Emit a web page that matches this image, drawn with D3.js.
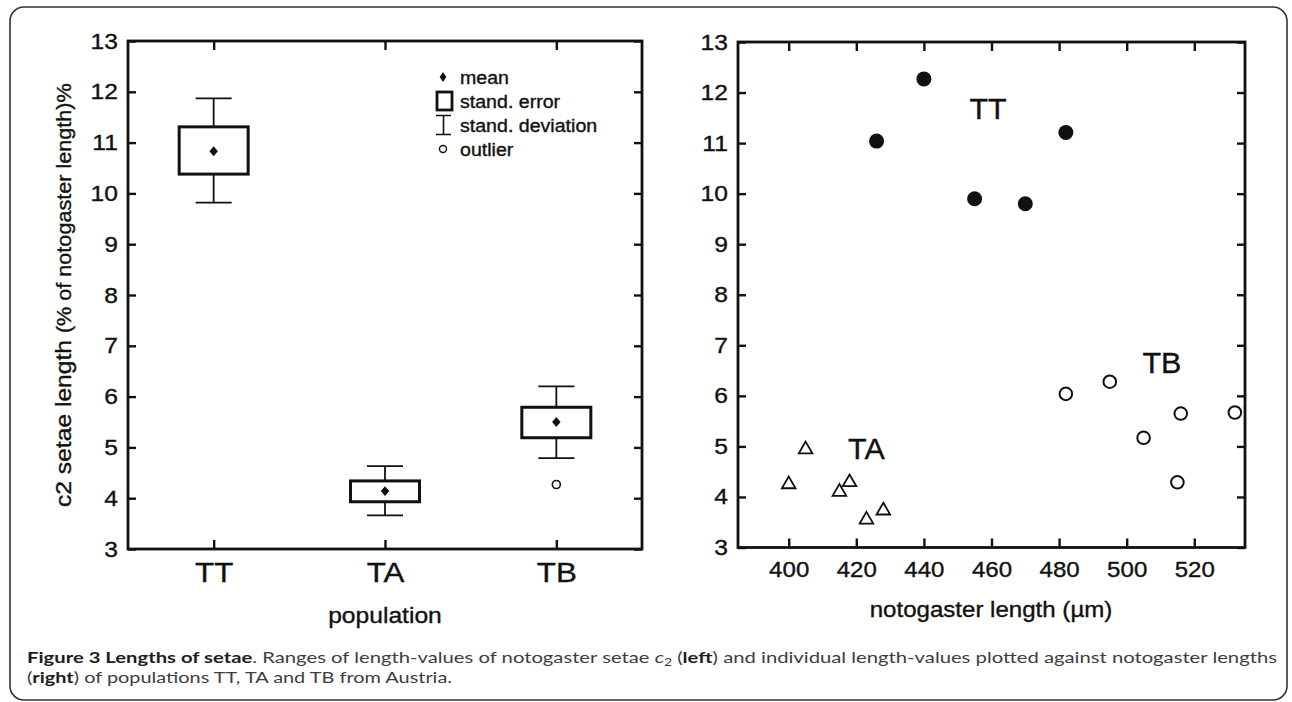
<!DOCTYPE html>
<html>
<head>
<meta charset="utf-8">
<script src="https://cdn.jsdelivr.net/npm/d3@7"></script>
<style>
  body { margin: 0; background: #fff; }
  text { font-family: "Liberation Sans", Arial, sans-serif; fill: #111; }
  .plot text { stroke: #111; stroke-width: 0.35; }
  .caption text { font-family: Lato, "Open Sans", sans-serif; }
</style>
</head>
<body>
<div id="chart"></div>
<script>
// page size
const width = 1292; const height = 702;
// the scanned lettering is a bit wider than plain Arial
const SX = 1.12;

// ---- data: left panel (box plot per population) ----
const populations = ['TT', 'TA', 'TB'];
const popMean = [10.83, 4.14, 5.50];
const seLow = [10.38, 3.93, 5.19];
const seHigh = [11.31, 4.34, 5.79];
const sdLow = [9.82, 3.66, 4.79];
const sdHigh = [11.87, 4.63, 6.20];
const outlierPop = ['TB'];
const outlierVal = [4.27];

// ---- data: right panel (individual values) ----
const ttLength = [426, 440, 455, 470, 482];
const ttSetae = [11.04, 12.27, 9.90, 9.80, 11.21];
const taLength = [400, 405, 415, 418, 423, 428];
const taSetae = [4.25, 4.94, 4.10, 4.29, 3.55, 3.73];
const tbLength = [482, 495, 505, 516, 515, 532];
const tbSetae = [6.04, 6.28, 5.17, 5.65, 4.29, 5.67];
// where the group names sit (data units, baseline)
const groupLabel = ['TT', 'TA', 'TB'];
const groupLabelX = [459, 423, 510.4];
const groupLabelY = [11.47, 4.76, 6.45];

// ---- ticks ----
const setaeTicks = [3, 4, 5, 6, 7, 8, 9, 10, 11, 12, 13];
const lengthTicks = [400, 420, 440, 460, 480, 500, 520];

const svg = d3.select('#chart')
    .append('svg')
        .attr('width', width)
        .attr('height', height);

// outer frame of the figure
svg.append('rect')
    .attr('x', 10).attr('y', 7)
    .attr('width', 1277).attr('height', 693)
    .attr('rx', 14)
    .attr('fill', 'none')
    .attr('stroke', '#333')
    .attr('stroke-width', 1.6);

function label(g, x, y, str, size, anchor, sx) {
    return g.append('text')
        .attr('transform', `translate(${x},${y}) scale(${sx || SX},1)`)
        .attr('text-anchor', anchor)
        .attr('font-size', size)
        .text(str);
}

// draws frame + inward ticks on all four sides
function frame(g, x, y, xTicks, xFormat, xFont, xPad) {
    const [x0, x1] = x.range();
    const [y1, y0] = y.range();
    const yl = g.append('g').attr('transform', `translate(${x0},0)`)
        .call(d3.axisLeft(y).tickValues(setaeTicks).tickSizeInner(-8).tickSizeOuter(0).tickPadding(9));
    yl.selectAll('text').attr('font-size', 22).attr('transform', `scale(${SX},1)`);
    g.append('g').attr('transform', `translate(${x1},0)`)
        .call(d3.axisRight(y).tickValues(setaeTicks).tickSizeInner(-8).tickSizeOuter(0).tickFormat(''));
    const xb = g.append('g').attr('transform', `translate(0,${y1})`)
        .call(d3.axisBottom(x).tickValues(xTicks).tickSizeInner(-9).tickSizeOuter(0).tickPadding(xPad).tickFormat(xFormat));
    xb.selectAll('text').attr('font-size', xFont).attr('transform', `scale(${SX},1)`);
    g.append('g').attr('transform', `translate(0,${y0})`)
        .call(d3.axisTop(x).tickValues(xTicks).tickSizeInner(-9).tickSizeOuter(0).tickFormat(''));
    g.selectAll('.domain').remove();
    g.selectAll('.tick line').attr('stroke', '#111').attr('stroke-width', 2.4);
    g.selectAll('.tick text').attr('fill', '#111').attr('font-family', '"Liberation Sans", Arial, sans-serif');
    g.append('rect')
        .attr('x', x0).attr('y', y0)
        .attr('width', x1 - x0).attr('height', y1 - y0)
        .attr('fill', 'none')
        .attr('stroke', '#111')
        .attr('stroke-width', 2.8);
}

// =================== left panel ===================
const left = svg.append('g').attr('class', 'plot');
const xL = d3.scalePoint().domain(populations).range([128, 642]).padding(0.5);
const yL = d3.scaleLinear().domain([3, 13]).range([549, 41]);
frame(left, xL, yL, populations, d => d, 28, 13);

const boxW = 69; const capW = 36;
const boxes = left.selectAll('.pop').data(populations).enter()
    .append('g').attr('class', 'pop');
// standard deviation whiskers
boxes.append('line')
    .attr('x1', d => xL(d)).attr('x2', d => xL(d))
    .attr('y1', (d, i) => yL(sdHigh[i])).attr('y2', (d, i) => yL(sdLow[i]))
    .attr('stroke', '#111').attr('stroke-width', 1.8);
[sdHigh, sdLow].forEach(arr => {
    boxes.append('line')
        .attr('x1', d => xL(d) - capW / 2).attr('x2', d => xL(d) + capW / 2)
        .attr('y1', (d, i) => yL(arr[i])).attr('y2', (d, i) => yL(arr[i]))
        .attr('stroke', '#111').attr('stroke-width', 1.8);
});
// standard error box
boxes.append('rect')
    .attr('x', d => xL(d) - boxW / 2)
    .attr('y', (d, i) => yL(seHigh[i]))
    .attr('width', boxW)
    .attr('height', (d, i) => yL(seLow[i]) - yL(seHigh[i]))
    .attr('fill', '#fff')
    .attr('stroke', '#111').attr('stroke-width', 3);
// mean
const diamond = d3.symbol(d3.symbolSquare, 40);
boxes.append('path')
    .attr('d', diamond)
    .attr('transform', (d, i) => `translate(${xL(d)},${yL(popMean[i])}) scale(0.95,1.1) rotate(45)`)
    .attr('fill', '#111');
// outliers
left.selectAll('.outlier').data(outlierPop).enter()
    .append('circle')
        .attr('cx', d => xL(d))
        .attr('cy', (d, i) => yL(outlierVal[i]))
        .attr('r', 4)
        .attr('fill', 'none')
        .attr('stroke', '#111').attr('stroke-width', 1.6);

// legend
const lg = left.append('g');
lg.append('path').attr('d', diamond).attr('transform', 'translate(443,77) scale(0.75,1.1) rotate(45)').attr('fill', '#111');
lg.append('rect').attr('x', 437).attr('y', 92).attr('width', 15).attr('height', 18)
    .attr('fill', 'none').attr('stroke', '#111').attr('stroke-width', 2.8);
lg.append('path').attr('d', 'M436,115.5H451M443.5,115.5V134.5M436,134.5H451')
    .attr('fill', 'none').attr('stroke', '#111').attr('stroke-width', 1.6);
lg.append('circle').attr('cx', 443).attr('cy', 149).attr('r', 3.5)
    .attr('fill', 'none').attr('stroke', '#111').attr('stroke-width', 1.4);
['mean', 'stand. error', 'stand. deviation', 'outlier'].forEach((t, i) => {
    label(lg, 460, [84, 108, 132, 156][i], t, 17.5, 'start');
});

// axis titles
left.append('text')
    .attr('transform', `translate(70.5,507) rotate(-90) scale(${SX},1)`)
    .call(t => {
        t.append('tspan').attr('font-size', 22).text('c2 setae length ');
        t.append('tspan').attr('font-size', 19.3).text('(% of notogaster length)%');
    });
label(left, 385, 623, 'population', 22, 'middle');

// =================== right panel ===================
const right = svg.append('g').attr('class', 'plot');
const xR = d3.scaleLinear().domain([385, 535]).range([738, 1245]);
const yR = d3.scaleLinear().domain([3, 13]).range([547.5, 42]);
frame(right, xR, yR, lengthTicks, d3.format('d'), 21.5, 14);

right.selectAll('.tt').data(ttLength).enter()
    .append('circle')
        .attr('cx', d => xR(d))
        .attr('cy', (d, i) => yR(ttSetae[i]))
        .attr('r', 7.5)
        .attr('fill', '#111');

right.selectAll('.ta').data(taLength).enter()
    .append('path')
        .attr('d', d3.symbol(d3.symbolTriangle, 80))
        .attr('transform', (d, i) => `translate(${xR(d)},${yR(taSetae[i])})`)
        .attr('fill', 'none')
        .attr('stroke', '#111').attr('stroke-width', 1.8);

right.selectAll('.tb').data(tbLength).enter()
    .append('circle')
        .attr('cx', d => xR(d))
        .attr('cy', (d, i) => yR(tbSetae[i]))
        .attr('r', 6.3)
        .attr('fill', 'none')
        .attr('stroke', '#111').attr('stroke-width', 2);

groupLabel.forEach((t, i) => {
    label(right, xR(groupLabelX[i]), yR(groupLabelY[i]), t, 29, 'middle', 1.05);
});

label(right, 991, 617, 'notogaster length (\u00b5m)', 21.5, 'middle');

// =================== caption ===================
const cap = svg.append('g').attr('class', 'caption');
const dark = '#1d1d1b'; const grey = '#3d3d3d';
cap.append('text')
    .attr('x', 27).attr('y', 663)
    .attr('font-size', 16)
    .attr('textLength', 1250).attr('lengthAdjust', 'spacingAndGlyphs')
    .call(t => {
        t.append('tspan').attr('font-weight', 'bold').attr('fill', dark).text('Figure 3 Lengths of setae');
        t.append('tspan').attr('fill', grey).text('. Ranges of length-values of notogaster setae ');
        t.append('tspan').attr('fill', grey).attr('font-style', 'italic').text('c');
        t.append('tspan').attr('fill', grey).attr('font-size', 11).attr('dy', 3).text('2');
        t.append('tspan').attr('fill', grey).attr('dy', -3).text(' (');
        t.append('tspan').attr('font-weight', 'bold').attr('fill', dark).text('left');
        t.append('tspan').attr('fill', grey).text(') and individual length-values plotted against notogaster lengths');
    });
cap.append('text')
    .attr('x', 27).attr('y', 683)
    .attr('font-size', 16)
    .attr('textLength', 425).attr('lengthAdjust', 'spacingAndGlyphs')
    .call(t => {
        t.append('tspan').attr('fill', grey).text('(');
        t.append('tspan').attr('font-weight', 'bold').attr('fill', dark).text('right');
        t.append('tspan').attr('fill', grey).text(') of populations TT, TA and TB from Austria.');
    });
</script>
</body>
</html>
